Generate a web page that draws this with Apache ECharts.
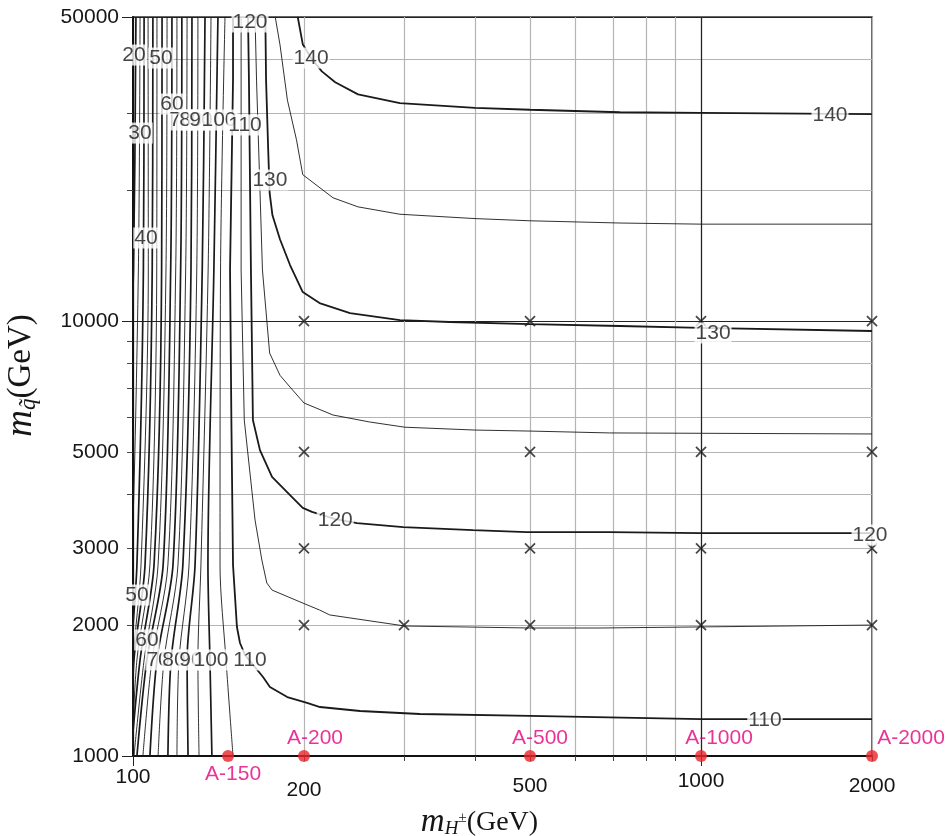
<!DOCTYPE html>
<html>
<head>
<meta charset="utf-8">
<script src="https://cdn.jsdelivr.net/npm/echarts@6/dist/echarts.min.js"></script>
<style>html,body{margin:0;background:#fff}#chart{width:950px;height:836px}</style>
</head>
<body>
<div id="chart"></div>
<script>
// axis ticks / labels
var xTicks = [100, 200, 300, 400, 500, 600, 700, 800, 900, 1000, 2000];
var xMajor = [100, 1000];
var xLabels = [100, 200, 500, 1000, 2000];
var yTicks = [1000, 2000, 3000, 4000, 5000, 6000, 7000, 8000, 9000, 10000, 20000, 30000, 40000, 50000];
var yMajor = [1000, 10000, 50000];
var yLabels = [1000, 2000, 3000, 5000, 10000, 50000];

// near-vertical contours on the left (m_h level, x at each leftY)
var leftY = [50000, 13100, 2750, 1663, 1000];
var leftLevels = [20, 25, 30, 35, 40, 45, 50, 55, 60, 65, 70, 75, 80, 85, 90, 95, 100, 105];
var leftX = [
  [101.2, 100.2, 97, 95, 93],
  [102.9, 102.2, 99.5, 97, 95],
  [104.6, 104.3, 101.6, 99, 97],
  [106.3, 106.4, 103.3, 100, 98],
  [108.4, 108.1, 105.0, 100.4, 99],
  [110.2, 110.1, 107.1, 101.6, 99.5],
  [112.5, 112.3, 108.9, 102.9, 99.2],
  [114.8, 114.3, 110.7, 104.6, 100.4],
  [117.1, 116.5, 113.0, 105.8, 101.6],
  [119.5, 118.9, 115.2, 108.0, 104.1],
  [121.9, 121.3, 117.6, 110.2, 107.1],
  [124.5, 123.8, 120.0, 113.4, 110.7],
  [127.0, 126.5, 122.4, 116.7, 115.2],
  [130.1, 129.5, 125.5, 120.5, 119.5],
  [133.9, 132.4, 128.6, 124.5, 125.0],
  [137.2, 135.6, 131.7, 130.1, 130.7],
  [141.1, 138.8, 135.5, 136.6, 137.7],
  [145.2, 142.6, 142.3, 145.8, 150.0]
];

// contours that bend over to the right
var c110 = [[150,50000],[150,35800],[148.2,13100],[149,5920],[150,2748],[152.4,1980],[154.3,1819],[157.5,1707],[169.4,1519],[174.2,1441],[186.9,1366],[202.5,1324],[213.4,1296],[251,1269],[320,1249],[500,1236],[1000,1216],[2000,1216]];
var c115 = [[155,50000],[155,35800],[155,13100],[157,5920],[164,3487],[168.6,2822],[172,2500],[175.7,2407],[199,2247],[213,2166],[222,2110],[301,1990],[500,1969],[664,1969],[2000,2000]];
var c120 = [[159.4,50000],[160,35800],[161.3,13100],[162.6,5920],[167.3,5050],[175.7,4380],[189,3980],[199,3720],[206.6,3640],[227,3505],[248,3430],[299,3360],[397,3307],[494,3272],[690,3272],[1000,3255],[2000,3255]];
var c125 = [[164,50000],[165,35800],[169,13100],[174,8440],[181.5,7500],[189,7050],[200,6480],[225,6080],[261,5860],[301,5700],[400,5615],[500,5585],[690,5530],[2000,5500]];
var c130 = [[171,50000],[171.5,35800],[173,24700],[174,19700],[176,17500],[181.5,15400],[189,13450],[199,11660],[213,11000],[241,10430],[295,10050],[361,9950],[500,9840],[720,9740],[1000,9640],[2000,9485]];
var c135 = [[178,50000],[181.5,43100],[187,32200],[194,26100],[199,21700],[225,19200],[249,18300],[295,17600],[400,17200],[500,17000],[720,16800],[1000,16700],[2000,16700]];
var c140 = [[195,50000],[199,43300],[206,40200],[215,37500],[227,35400],[249,33200],[295,31700],[400,30900],[500,30600],[720,30200],[1000,30100],[2000,29900]];

// contour labels [x, y, text]
var contourLabels = [
  [100.4, 40880, '20'], [112, 40240, '50'], [117.1, 31540, '60'],
  [121.5, 28990, '70'], [126.5, 28990, '80'], [131.7, 28990, '90'], [141.7, 28990, '100'],
  [157.5, 28230, '110'], [160.7, 48700, '120'], [102.9, 27050, '30'], [174.2, 21090, '130'],
  [205.8, 40240, '140'], [105.4, 15520, '40'], [1687, 29760, '140'], [1050, 9385, '130'],
  [227, 3487, '120'], [1984, 3221, '120'], [1296, 1210, '110'],
  [101.6, 2345, '50'], [105.8, 1848, '60'],
  [110.7, 1663, '70'], [118.1, 1663, '80'], [126.5, 1663, '90'], [137.2, 1663, '100'], [160.7, 1663, '110']
];

// scan points (x marks)
var scanPoints = [[200,10000],[500,10000],[1000,10000],[2000,10000],[200,5000],[500,5000],[1000,5000],[2000,5000],
  [200,3000],[500,3000],[1000,3000],[2000,3000],[200,2000],[300,2000],[500,2000],[1000,2000],[2000,2000]];

// benchmark points on the axis
var benchX = [147, 200, 500, 1000, 2000];
var benchNames = ['A-150', 'A-200', 'A-500', 'A-1000', 'A-2000'];
var benchY = 1000;

var SANS = 'Liberation Sans, Arial, Helvetica, sans-serif';
var SERIF = 'Liberation Serif, DejaVu Serif, Times New Roman, serif';
var INK = '#161616';

var series = [];

leftLevels.forEach(function (lv, i) {
  var pts = leftX[i].map(function (x, j) { return [x, leftY[j]]; });
  series.push({
    type: 'line', name: 'c' + lv, data: pts, showSymbol: false, smooth: 0.3,
    silent: true, z: 2,
    lineStyle: { color: '#1a1a1a', width: lv % 10 === 0 ? 1.7 : 0.9 }
  });
});

[[c110, 110], [c115, 115], [c120, 120], [c125, 125], [c130, 130], [c135, 135], [c140, 140]].forEach(function (c) {
  series.push({
    type: 'line', name: 'c' + c[1], data: c[0], showSymbol: false, silent: true, z: 2,
    lineStyle: { color: '#1a1a1a', width: c[1] % 10 === 0 ? 1.8 : 0.9 }
  });
});

series.push({
  type: 'scatter', name: 'scan', data: scanPoints, z: 4, silent: true,
  symbol: 'path://M0,0L10,10M10,0L0,10', symbolSize: [10, 10],
  itemStyle: { color: 'none', borderColor: '#1a1a1a', borderWidth: 1.8 }
});

series.push({
  type: 'scatter', name: 'labels', z: 5, silent: true, clip: false,
  data: contourLabels.map(function (d) { return { value: [d[0], d[1]], name: d[2] }; }),
  symbolSize: 1, itemStyle: { color: 'transparent' },
  label: {
    show: true, position: 'inside', formatter: '{b}', color: INK,
    fontFamily: SANS, fontSize: 21, backgroundColor: '#fff', padding: [0, 1]
  }
});

var benchLabel = [
  { position: 'bottom', offset: [5, 0], distance: 2 },
  { position: 'top', offset: [11, 0], distance: 1 },
  { position: 'top', offset: [10, 0], distance: 1 },
  { position: 'top', offset: [18, 0], distance: 1 },
  { position: 'top', offset: [39, 0], distance: 1 }
];
series.push({
  type: 'scatter', name: 'bench', z: 6, silent: true, clip: false,
  data: benchX.map(function (x, i) {
    return { value: [x, benchY], name: benchNames[i], label: benchLabel[i] };
  }),
  symbolSize: 12, itemStyle: { color: '#e8262b' },
  label: { show: true, formatter: '{b}', color: '#e5007d', fontFamily: SANS, fontSize: 21 }
});

function tickStyle(pad) {
  return { fontFamily: SANS, fontSize: 21, color: INK, padding: [pad, 0, 0, 0] };
}
var xRich = { t100: tickStyle(0), t200: tickStyle(13), t500: tickStyle(9), t1000: tickStyle(4), t2000: tickStyle(9) };

var option = {
  animation: false,
  backgroundColor: '#fff',
  grid: {
    left: 133, right: 78, top: 17, bottom: 80, containLabel: false, outerBoundsMode: 'none',
    show: true, borderColor: '#333', borderWidth: 1.5
  },
  xAxis: [{
    type: 'log', min: 100, max: 2000, position: 'bottom',
    name: '{i|m}{s|H}{p|±}{r|(GeV)}', nameLocation: 'middle', nameGap: 48,
    nameTextStyle: {
      padding: [0, 46, 0, 0],
      rich: {
        i: { fontFamily: SERIF, fontStyle: 'italic', fontSize: 33, color: INK },
        s: { fontFamily: SERIF, fontStyle: 'italic', fontSize: 19, color: INK, padding: [14, 0, 0, 0] },
        p: { fontFamily: SERIF, fontSize: 15, color: INK, padding: [0, 0, 8, 0] },
        r: { fontFamily: SERIF, fontSize: 28, color: INK }
      }
    },
    axisLine: { show: true, lineStyle: { color: '#111', width: 2 } },
    axisTick: { show: true, customValues: xTicks, length: 5, lineStyle: { color: '#444' } },
    axisLabel: {
      customValues: xLabels, margin: 11,
      formatter: function (v) { var r = Math.round(v); return '{t' + r + '|' + r + '}'; },
      rich: xRich
    },
    splitLine: { show: true, lineStyle: { color: '#b4b4b4', width: 1.2 } }
  }, {
    type: 'log', min: 100, max: 2000, position: 'bottom',
    axisLine: { show: false },
    axisTick: { show: true, customValues: xMajor, length: 10, lineStyle: { color: '#222' } },
    axisLabel: { show: false },
    splitLine: { show: true, lineStyle: { color: '#222', width: 1.2 } }
  }],
  yAxis: [{
    type: 'log', min: 1000, max: 50000,
    name: '{i|m}{s|q\u0303}{r|(GeV)}', nameLocation: 'middle', nameRotate: 90, nameGap: 93,
    nameTextStyle: {
      padding: [0, 0, 0, 22],
      rich: {
        i: { fontFamily: SERIF, fontStyle: 'italic', fontSize: 37, color: INK },
        s: { fontFamily: SERIF, fontStyle: 'italic', fontSize: 23, color: INK, padding: [15, 0, 0, 0] },
        r: { fontFamily: SERIF, fontSize: 33, color: INK }
      }
    },
    axisLine: { show: true, lineStyle: { color: '#111', width: 2 } },
    axisTick: { show: true, customValues: yTicks, length: 6, lineStyle: { color: '#444' } },
    axisLabel: {
      customValues: yLabels, margin: 14, fontFamily: SANS, fontSize: 21, color: INK,
      formatter: function (v) { return String(Math.round(v)); }
    },
    splitLine: { show: true, lineStyle: { color: '#b4b4b4', width: 1.2 } }
  }, {
    type: 'log', min: 1000, max: 50000, position: 'left',
    axisLine: { show: false },
    axisTick: { show: true, customValues: yMajor, length: 11, lineStyle: { color: '#222' } },
    axisLabel: { show: false },
    splitLine: { show: true, lineStyle: { color: '#222', width: 1.2 } }
  }],
  series: series
};

var chart = echarts.init(document.getElementById('chart'));
chart.setOption(option);
</script>
</body>
</html>
